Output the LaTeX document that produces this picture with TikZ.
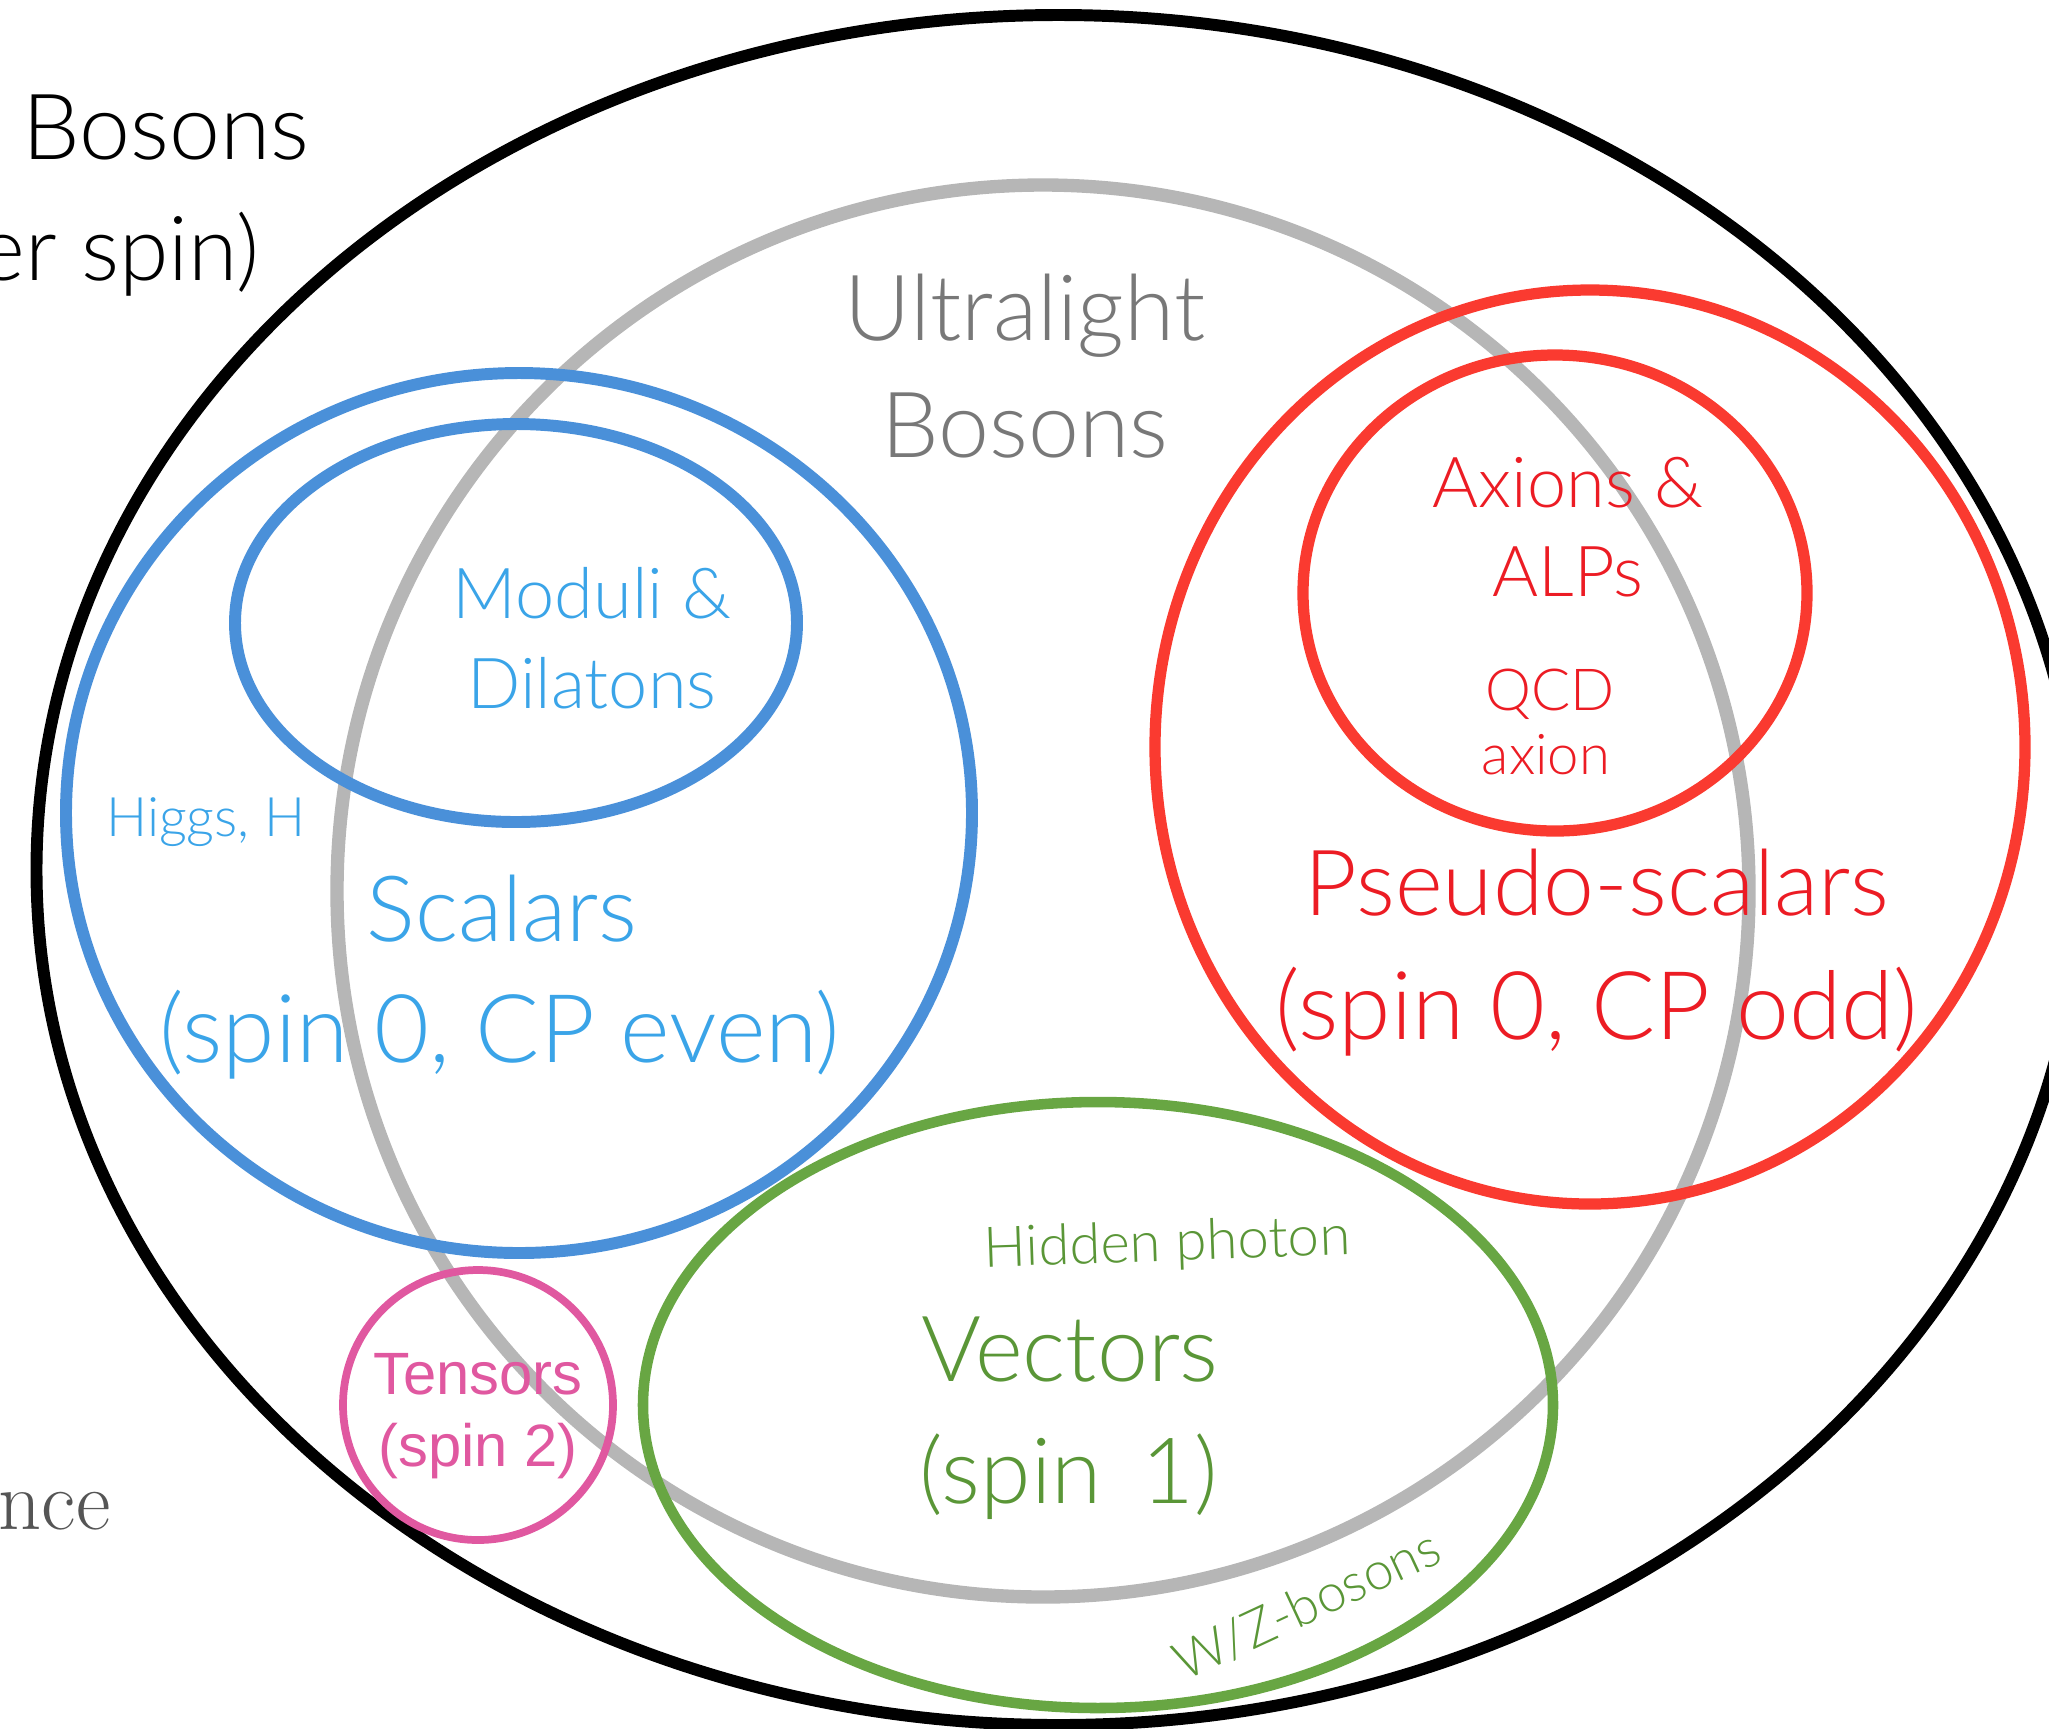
\documentclass[tikz,border=0pt]{standalone}
\usepackage{fontspec}
\newfontfamily\gill{Lato Light}
\newfontfamily\helv{Liberation Sans}
\definecolor{ringgray}{RGB}{182,182,182}
\definecolor{txtgray}{RGB}{120,120,120}
\definecolor{scalline}{RGB}{74,144,217}
\definecolor{scaltxt}{RGB}{58,164,232}
\definecolor{pseudored}{RGB}{250,58,48}
\definecolor{pseudotxt}{RGB}{236,28,36}
\definecolor{vecgreen}{RGB}{104,166,67}
\definecolor{vectxt}{RGB}{90,150,55}
\definecolor{tenspink}{RGB}{224,88,160}
\definecolor{nceg}{RGB}{85,85,85}

\begin{document}
\begin{tikzpicture}
\tikzset{tag/.style={anchor=base, inner sep=0pt, font=\gill\fontsize{#1}{#1}\selectfont}}
\useasboundingbox (0,0) rectangle (20.49,-17.28);
\draw[line width=3.4pt] (10.585,-8.70) ellipse [x radius=10.22, y radius=8.55];
\draw[ringgray, line width=3.8pt] (10.43,-8.91) circle [radius=7.06];
\draw[scalline, line width=3.4pt] (5.19,-8.13) ellipse [x radius=4.53, y radius=4.40];
\draw[scalline, line width=3.4pt] (5.16,-6.23) ellipse [x radius=2.81, y radius=1.99];
\draw[pseudored, line width=3.2pt] (15.90,-7.47) ellipse [x radius=4.35, y radius=4.57];
\draw[pseudored, line width=3.2pt] (15.55,-5.93) ellipse [x radius=2.52, y radius=2.38];
\draw[vecgreen, line width=3pt] (10.98,-14.05) ellipse [x radius=4.55, y radius=3.03];
\draw[tenspink, line width=2.2pt] (4.78,-14.05) circle [radius=1.35];
\node[tag=26, anchor=base west] (bosA) at (0.22,-1.59) {Bosons};
\node[tag=25.5, anchor=base east] (bosB) at (2.60,-2.80) {er spin)};
\node[tag=26, txtgray] (ultra) at (10.25,-3.40) {Ultralight};
\node[tag=26, txtgray] (ultraB) at (10.25,-4.57) {Bosons};
\node[tag=20, scaltxt] (moduli) at (5.92,-6.18) {Moduli \&};
\node[tag=20, scaltxt] (dilat) at (5.92,-7.08) {Dilatons};
\node[tag=15.5, scaltxt] (higgs) at (2.06,-8.36) {Higgs, H};
\node[tag=26, scaltxt] (scal) at (5.02,-9.41) {Scalars};
\node[tag=27, scaltxt] (scalB) at (5.00,-10.62) {(spin 0, CP even)};
\node[tag=20, pseudotxt] (axion) at (15.68,-5.07) {Axions \&};
\node[tag=20, pseudotxt] (alps) at (15.68,-5.96) {ALPs};
\node[tag=16.5, pseudotxt] (qcd) at (15.50,-7.10) {QCD};
\node[tag=16, pseudotxt] (qcdB) at (15.46,-7.74) {axion};
\node[tag=26, pseudotxt] (pseudo) at (15.97,-9.15) {Pseudo-scalars};
\node[tag=27, pseudotxt] (pseudoB) at (15.97,-10.39) {(spin 0, CP odd)};
\node[tag=16, vectxt, rotate=2] (hidden) at (11.68,-12.61) {Hidden photon};
\node[tag=26, vectxt] (vec) at (10.70,-13.81) {Vectors};
\node[tag=26, vectxt] (vecB) at (10.69,-15.03) {(spin\, 1)};
\node[tag=15, vectxt, anchor=center, rotate=25] (wz) at (13.07,-16.05) {W/Z-bosons};
\node[anchor=base, inner sep=0pt, tenspink, font=\helv\fontsize{17}{17}\selectfont] (tens) at (4.78,-13.94) {Tensors};
\node[anchor=base, inner sep=0pt, tenspink, font=\helv\fontsize{17}{17}\selectfont] (tensB) at (4.78,-14.66) {(spin 2)};
\node[anchor=base east, inner sep=0pt, nceg, font=\fontsize{24}{24}\selectfont] (nce) at (1.11,-15.29) {nce};
\end{tikzpicture}
\end{document}
